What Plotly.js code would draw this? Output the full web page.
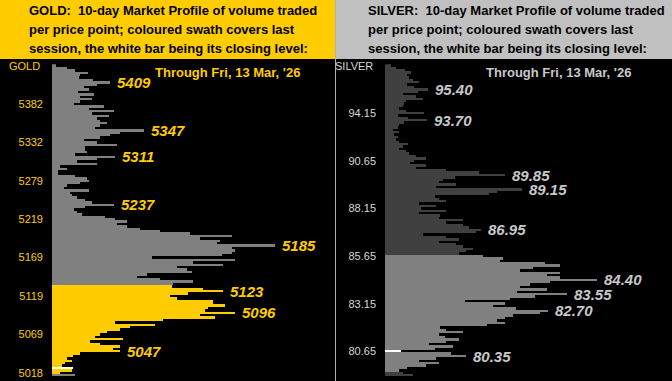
<!DOCTYPE html>
<html>
<head>
<meta charset="utf-8">
<script src="https://cdn.plot.ly/plotly-3.0.1.min.js"></script>
<style>html,body{margin:0;padding:0;background:#000;}#chart{width:672px;height:381px;}</style>
</head>
<body>
<div id="chart"></div>
<script>
// ---------- GOLD: price levels (top to bottom) and volume per level ----------
const goldPrices = [5432,5429,5426,5423,5419,5416,5413,5409,5407,5404,5401,5398,5394,5391,5388,5385,5382,
5379,5376,5373,5369,5366,5363,5360,5357,5354,5351,5347,5344,5341,5338,5335,5332,
5329,5325,5322,5319,5315,5311,5309,5305,5302,5299,5296,5292,5289,5285,5282,5279,
5275,5272,5268,5264,5260,5256,5253,5248,5243,5237,5234,5231,5228,5225,5222,5219,
5216,5213,5210,5207,5203,5200,5197,5194,5191,5188,5185,5182,5178,5175,5172,5169,
5166,5163,5160,5157,5153,5150,5147,5144,5141,5138,5135,5131,5127,5123,5121,5119,
5116,5113,5110,5107,5103,5100,5096,5094,5091,5088,5085,5082,5078,5075,5072,5069,
5066,5063,5059,5056,5053,5050,5047,5043,5040,5037,5034,5031,5027,5024,5021,5018,
5015];
const goldVolume = [4,15,23,36,28,27,41,58,45,32,37,26,42,28,40,28,22,
52,37,62,40,57,45,48,55,48,43,92,68,58,48,32,45,
65,33,33,35,23,63,45,25,45,8,15,6,6,23,35,37,
28,15,12,37,18,20,25,33,40,62,33,22,25,30,53,63,
75,65,75,88,108,138,180,148,168,165,223,180,183,180,170,100,
183,141,171,125,135,140,95,85,108,141,121,120,151,171,136,118,
125,161,161,173,156,153,183,148,163,111,63,103,78,68,55,48,
43,71,38,48,68,61,68,28,21,15,20,13,10,21,20,8,
23];
const goldTicks = [5382,5332,5279,5219,5169,5119,5069,5018];
const goldPeaks = [5409,5347,5311,5237,5185,5123,5096,5047];
const goldSessionHigh = 5131, goldSessionLow = 5018, goldClose = 5024;

// ---------- SILVER ----------
const silverPrices = [96.65,96.53,96.40,96.28,96.15,96.03,95.90,95.78,95.65,95.53,95.40,95.28,95.15,95.03,94.90,94.78,94.65,94.53,94.40,94.28,94.15,
93.98,93.85,93.70,93.45,93.28,93.10,92.93,92.75,92.58,92.40,92.23,92.05,91.88,91.70,91.53,91.35,91.18,91.00,90.83,90.65,
90.53,90.40,90.28,90.15,90.03,89.85,89.78,89.65,89.53,89.40,89.28,89.15,89.03,88.90,88.78,88.65,88.53,88.40,88.28,88.15,
88.03,87.90,87.78,87.65,87.53,87.40,87.28,87.15,86.95,86.90,86.78,86.65,86.53,86.40,86.28,86.15,86.03,85.90,85.78,85.65,
85.53,85.40,85.28,85.15,85.03,84.90,84.78,84.65,84.53,84.40,84.28,84.15,84.03,83.90,83.70,83.55,83.45,83.35,83.25,83.15,
83.03,82.90,82.70,82.65,82.53,82.40,82.28,82.15,82.03,81.90,81.78,81.65,81.53,81.40,81.28,81.15,81.03,80.90,80.78,80.65,
80.53,80.35,80.28,80.15,80.03,79.90,79.78,79.65,79.53,79.40];
const silverVolume = [6,11,20,26,22,24,28,34,22,29,43,33,18,31,38,21,19,18,14,21,39,
13,23,42,19,14,13,8,14,9,13,11,14,23,18,14,21,24,31,41,29,
25,41,31,61,94,120,70,58,54,71,51,137,112,104,50,54,61,34,51,36,
61,34,55,54,78,61,78,84,96,91,38,61,74,54,71,78,88,81,74,98,
118,115,160,175,148,135,175,162,175,212,165,145,135,162,132,182,150,125,80,120,
108,131,163,155,128,120,112,120,102,55,61,78,54,60,74,61,44,68,50,16,
66,81,51,34,54,41,22,14,18,28];
const silverTicks = [94.15,90.65,88.15,85.65,83.15,80.65];
const silverPeaks = [95.40,93.70,89.85,89.15,86.95,84.40,83.55,82.70,80.35];
const silverSessionHigh = 85.65, silverSessionLow = 79.65, silverClose = 80.65;

// ---------- styling ----------
const W = 672, H = 381;
const GOLD_YEL = '#FFCC00', GOLD_GRAY = '#808080';
const SIL_DARK = '#404040', SIL_SWATH = '#808080', SIL_TEXT = '#C8C8C8';
const FONT = 'Liberation Sans, Arial, Helvetica, sans-serif';

const goldCats = goldPrices.map(p => String(p));
const silverCats = silverPrices.map(p => p.toFixed(2));

function colours(prices, hi, lo, close, base, swath) {
  return prices.map(p => p === close ? '#FFFFFF' : (p <= hi && p >= lo ? swath : base));
}
function nearestIndex(prices, v) {
  let best = 0;
  prices.forEach((p, i) => { if (Math.abs(p - v) < Math.abs(prices[best] - v)) best = i; });
  return best;
}

const traces = [
  {type:'bar', orientation:'h', x: goldVolume, y: goldCats, xaxis:'x', yaxis:'y',
   marker:{color: colours(goldPrices, goldSessionHigh, goldSessionLow, goldClose, GOLD_GRAY, GOLD_YEL), line:{width:0}},
   hoverinfo:'skip'},
  {type:'bar', orientation:'h', x: silverVolume, y: silverCats, xaxis:'x2', yaxis:'y2',
   marker:{color: colours(silverPrices, silverSessionHigh, silverSessionLow, silverClose, SIL_DARK, SIL_SWATH), line:{width:0}},
   hoverinfo:'skip'}
];

const px = v => v / W, py = v => 1 - v / H;
const yDomain = [py(376.3), py(64.3)];

const annotations = [];
function txt(x, y, text, color, size, anchor) {
  annotations.push({xref:'paper', yref:'paper', x: px(x), y: py(y), text, showarrow:false,
    xanchor: anchor || 'left', yanchor:'middle', font:{family: FONT, size, color}});
}
// headers
const hdr = ['10-day Market Profile of volume traded', 'per price point; coloured swath covers last', 'session, the white bar being its closing level:'];
[['GOLD:\u00a0 ' + hdr[0], hdr[1], hdr[2]], ['SILVER:\u00a0 ' + hdr[0], hdr[1], hdr[2]]].forEach((lines, k) => {
  lines.forEach((l, j) => txt(k === 0 ? 27 : 366, 10.5 + 19 * j, '<b>' + l + '</b>', '#000000', 13));
});
txt(153, 73, "<b>Through Fri, 13 Mar, '26</b>", GOLD_YEL, 13);
txt(484, 73, "<b>Through Fri, 13 Mar, '26</b>", SIL_TEXT, 13);
txt(42, 65.5, 'GOLD', GOLD_YEL, 11, 'right');
txt(375, 65.5, 'SILVER', '#D8D8D8', 11, 'right');

goldPeaks.forEach(v => {
  const i = nearestIndex(goldPrices, v);
  annotations.push({xref:'x', yref:'y', x: goldVolume[i], y: i, xanchor:'left', yanchor:'middle', xshift:5,
    text:'<b><i>' + v.toFixed(0) + '</i></b>', showarrow:false, font:{family: FONT, size:15, color: GOLD_YEL}});
});
silverPeaks.forEach(v => {
  const i = nearestIndex(silverPrices, v);
  annotations.push({xref:'x2', yref:'y2', x: silverVolume[i], y: i, xanchor:'left', yanchor:'middle', xshift:5,
    text:'<b><i>' + v.toFixed(2) + '</i></b>', showarrow:false, font:{family: FONT, size:15, color: SIL_TEXT}});
});

const shapes = [
  {type:'rect', xref:'paper', yref:'paper', x0: px(0), x1: px(335), y0: py(59), y1: py(0), fillcolor: GOLD_YEL, line:{width:0}, layer:'below'},
  {type:'rect', xref:'paper', yref:'paper', x0: px(336), x1: px(672), y0: py(59), y1: py(0), fillcolor:'#C0C0C0', line:{width:0}, layer:'below'},
  {type:'line', xref:'paper', yref:'paper', x0: px(335.5), x1: px(335.5), y0: 0, y1: 1, line:{color:'#B0B0B0', width:1}}
];

const yCommon = {type:'category', showgrid:false, zeroline:false, showline:false, ticks:'', ticklabelstandoff:8,
  tickmode:'array', domain: yDomain, fixedrange:true};

const layout = {
  width: W, height: H, margin:{l:0, r:0, t:0, b:0, autoexpand:false},
  paper_bgcolor:'#000000', plot_bgcolor:'#000000', showlegend:false, bargap:0,
  xaxis:{domain:[px(52), px(335)], range:[0, 283], visible:false, fixedrange:true},
  xaxis2:{domain:[px(385), 1], range:[0, 287], visible:false, fixedrange:true},
  yaxis: Object.assign({}, yCommon, {anchor:'x', range:[goldCats.length - 0.5, -0.5],
    tickvals: goldTicks.map(String), ticktext: goldTicks.map(String),
    tickfont:{family: FONT, size:11, color: GOLD_YEL}}),
  yaxis2: Object.assign({}, yCommon, {anchor:'x2', range:[silverCats.length - 0.5, -0.5],
    tickvals: silverTicks.map(v => v.toFixed(2)), ticktext: silverTicks.map(v => v.toFixed(2)),
    tickfont:{family: FONT, size:11, color:'#D8D8D8'}}),
  shapes, annotations
};

Plotly.newPlot('chart', traces, layout, {staticPlot:true, displayModeBar:false});
</script>
</body>
</html>
